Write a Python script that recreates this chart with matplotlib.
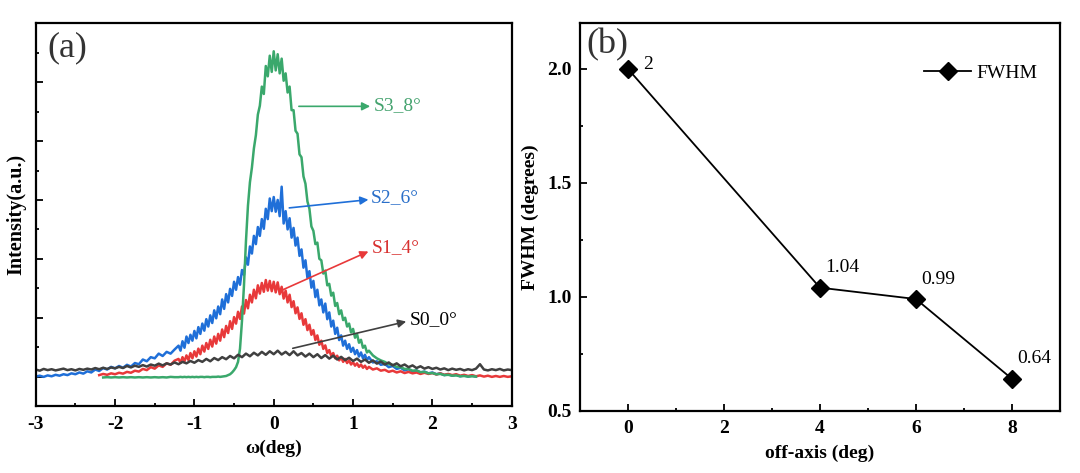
import matplotlib
matplotlib.use('Agg')
import matplotlib.pyplot as plt
import numpy as np
from matplotlib.ticker import MultipleLocator

plt.rcParams['font.family'] = ['Liberation Serif', 'DejaVu Serif']
plt.rcParams['axes.unicode_minus'] = False


def grid(a, b, step):
    # sampling positions of omega (deg)
    n = int(round((b - a) / step)) + 1
    return np.round(np.linspace(a, b, n), 3)


# ---- (a) rocking curves, intensity in arbitrary units ----
# S0_0° sampled every 0.05 deg
w_s0 = grid(-3.0, 3.0, 0.05)
i_s0 = [0.24, 0.20, 0.26, 0.22, 0.25, 0.21, 0.24, 0.27, 0.22, 0.25,
        0.21, 0.26, 0.23, 0.27, 0.24, 0.29, 0.25, 0.30, 0.26, 0.31,
        0.28, 0.33, 0.29, 0.36, 0.31, 0.37, 0.33, 0.39, 0.34, 0.41,
        0.37, 0.44, 0.38, 0.45, 0.41, 0.48, 0.42, 0.50, 0.45, 0.53,
        0.47, 0.56, 0.50, 0.60, 0.52, 0.63, 0.56, 0.66, 0.59, 0.70,
        0.62, 0.74, 0.66, 0.78, 0.69, 0.81, 0.72, 0.84, 0.74, 0.86,
        0.76, 0.88, 0.75, 0.84, 0.73, 0.86, 0.72, 0.80, 0.68, 0.78,
        0.66, 0.76, 0.63, 0.73, 0.61, 0.71, 0.58, 0.67, 0.56, 0.64,
        0.53, 0.61, 0.50, 0.58, 0.47, 0.55, 0.44, 0.51, 0.41, 0.48,
        0.38, 0.45, 0.35, 0.41, 0.32, 0.38, 0.29, 0.35, 0.27, 0.32,
        0.26, 0.30, 0.24, 0.28, 0.22, 0.27, 0.23, 0.26, 0.21, 0.25,
        0.22, 0.27, 0.42, 0.24, 0.21, 0.25, 0.22, 0.26, 0.21, 0.24,
        0.22]

# S1_4°: tails every 0.05 deg, centre (-1.2..1.2) every 0.025 deg
w_s1 = np.concatenate([grid(-2.2, -1.25, 0.05), grid(-1.2, 1.2, 0.025), grid(1.25, 3.0, 0.05)])
i_s1 = [0.05, 0.09, 0.06, 0.11, 0.08, 0.13, 0.10, 0.16, 0.13, 0.20,
        0.17, 0.26, 0.22, 0.32, 0.27, 0.38, 0.33, 0.45, 0.40, 0.54,
        # centre
        0.60, 0.47, 0.66, 0.52, 0.72, 0.56, 0.80, 0.62, 0.86, 0.68,
        0.95, 0.76, 1.05, 0.85, 1.14, 0.94, 1.25, 1.02, 1.36, 1.12,
        1.45, 1.22, 1.60, 1.34, 1.72, 1.48, 1.88, 1.62, 2.02, 1.80,
        2.20, 1.96, 2.38, 2.14, 2.60, 2.32, 2.78, 2.52, 2.95, 2.66,
        3.10, 2.82, 3.18, 2.88, 3.28, 2.92, 3.25, 2.90, 3.22, 2.86,
        3.20, 2.80, 3.05, 2.65, 2.92, 2.52, 2.78, 2.36, 2.56, 2.15,
        2.35, 1.96, 2.15, 1.76, 1.95, 1.58, 1.76, 1.42, 1.58, 1.24,
        1.40, 1.08, 1.22, 0.94, 1.06, 0.80, 0.90, 0.70, 0.80, 0.62,
        0.71, 0.55, 0.65, 0.50, 0.60, 0.46, 0.55, 0.41, 0.49, 0.37,
        0.45, 0.33, 0.41, 0.30, 0.37, 0.26, 0.33,
        # right tail
        0.24, 0.28, 0.20, 0.23, 0.16, 0.20, 0.14, 0.18, 0.12, 0.16,
        0.11, 0.14, 0.09, 0.13, 0.09, 0.12, 0.07, 0.11, 0.06, 0.09,
        0.05, 0.08, 0.03, 0.06, 0.02, 0.05, 0.01, 0.04, 0.00, 0.03,
        -0.01, 0.02, -0.01, 0.02, -0.01, 0.01]

# S2_6°
w_s2 = np.concatenate([grid(-3.0, -1.25, 0.05), grid(-1.2, 1.2, 0.025), grid(1.25, 2.55, 0.05)])
i_s2 = [0.00, 0.03, -0.01, 0.04, 0.01, 0.06, 0.03, 0.08, 0.05, 0.11,
        0.08, 0.14, 0.10, 0.18, 0.14, 0.24, 0.19, 0.29, 0.24, 0.33,
        0.28, 0.36, 0.30, 0.40, 0.34, 0.46, 0.42, 0.58, 0.52, 0.66,
        0.62, 0.78, 0.70, 0.84, 0.78, 0.92,
        # centre
        1.05, 0.88, 1.20, 0.98, 1.36, 1.14, 1.42, 1.22, 1.55, 1.30,
        1.68, 1.45, 1.80, 1.56, 1.95, 1.70, 2.08, 1.82, 2.25, 1.98,
        2.38, 2.12, 2.62, 2.30, 2.80, 2.52, 2.98, 2.74, 3.22, 2.95,
        3.38, 3.12, 3.62, 3.45, 4.05, 3.80, 4.42, 4.18, 4.78, 4.50,
        5.08, 4.78, 5.35, 5.02, 5.70, 5.35, 6.05, 5.62, 6.10, 5.60,
        6.00, 5.45, 6.45, 5.20, 5.62, 5.00, 5.38, 4.72, 5.05, 4.45,
        4.72, 4.10, 4.32, 3.70, 3.95, 3.35, 3.58, 3.02, 3.25, 2.70,
        2.95, 2.42, 2.62, 2.18, 2.48, 1.95, 2.18, 1.70, 1.90, 1.45,
        1.66, 1.24, 1.40, 1.05, 1.22, 0.94, 1.10, 0.84, 0.98, 0.76,
        0.90, 0.68, 0.82, 0.62, 0.74, 0.56, 0.66,
        # right tail
        0.48, 0.52, 0.40, 0.43, 0.32, 0.36, 0.26, 0.30, 0.21, 0.25,
        0.17, 0.21, 0.14, 0.17, 0.11, 0.14, 0.08, 0.11, 0.05, 0.08,
        0.03, 0.06, 0.01, 0.04, 0.00, 0.03, 0.00]

# S3_8°
w_s3 = np.concatenate([grid(-2.15, -1.25, 0.05), grid(-1.2, 1.2, 0.025), grid(1.25, 2.55, 0.05)])
i_s3 = [-0.03, -0.02, -0.03, -0.02, -0.03, -0.02, -0.03, -0.02, -0.03, -0.02,
        -0.03, -0.02, -0.03, -0.02, -0.03, -0.02, -0.03, -0.01, -0.02,
        # centre
        -0.02, -0.01, -0.02, -0.01, -0.02, -0.01, -0.02, -0.01, -0.02, -0.01,
        -0.02, -0.01, -0.01, -0.02, -0.01, -0.01, -0.02, -0.01, -0.01, -0.01,
        0.00, -0.01, 0.00, 0.01, 0.02, 0.05, 0.08, 0.14, 0.22, 0.32,
        0.50, 0.95, 1.90, 3.10, 4.60, 5.80, 6.60, 7.10, 7.75, 8.20,
        8.90, 9.20, 9.85, 9.60, 10.55, 10.20, 10.90, 10.35, 11.05, 10.40,
        10.95, 10.30, 10.80, 10.05, 10.30, 9.65, 9.85, 9.05, 9.05, 8.35,
        8.25, 7.55, 7.45, 6.80, 6.55, 5.95, 5.70, 5.10, 4.95, 4.50,
        4.55, 4.00, 3.95, 3.50, 3.60, 3.10, 3.15, 2.75, 2.85, 2.40,
        2.50, 2.12, 2.25, 1.92, 2.00, 1.70, 1.80, 1.50, 1.62, 1.32,
        1.45, 1.15, 1.25, 0.98, 1.05, 0.82, 0.88,
        # right tail
        0.72, 0.62, 0.55, 0.50, 0.42, 0.40, 0.33, 0.32, 0.26, 0.26,
        0.20, 0.21, 0.15, 0.16, 0.11, 0.12, 0.08, 0.09, 0.05, 0.06,
        0.03, 0.04, 0.01, 0.02, 0.00, 0.01, 0.00]

curve_labels = ['S0_0°', 'S1_4°', 'S2_6°', 'S3_8°']

# ---- (b) FWHM vs off-axis angle ----
off_axis = [0, 4, 6, 8]
fwhm = [2.0, 1.04, 0.99, 0.64]

c_s0 = '#404040'
c_s1 = '#e8393a'
c_s2 = '#1f6fd8'
c_s3 = '#3aa86c'

fig = plt.figure(figsize=(10.8, 4.73), dpi=100)
ax1 = fig.add_axes([0.0331, 0.1416, 0.4407, 0.8091])
ax2 = fig.add_axes([0.5370, 0.1317, 0.4444, 0.8190])

ax1.plot(w_s2, i_s2, color=c_s2, lw=1.8)
ax1.plot(w_s1, i_s1, color=c_s1, lw=1.8)
ax1.plot(w_s3, i_s3, color=c_s3, lw=1.8)
ax1.plot(w_s0, i_s0, color=c_s0, lw=1.8)

# arrows + labels (start on curve, head at label)
arr = [((0.24, 0.96), (1.67, 1.87), (1.72, 1.95), c_s0, 'black'),
       ((0.066, 2.89), (1.194, 4.25), (1.24, 4.37), c_s1, '#d8302f'),
       ((0.196, 5.73), (1.194, 6.01), (1.22, 6.07), c_s2, '#2a6fc9'),
       ((0.317, 9.18), (1.216, 9.18), (1.26, 9.2), c_s3, '#45a36f')]
for (st, en, tp, col, tcol), lab in zip(arr, curve_labels):
    ax1.annotate('', xy=en, xytext=st,
                 arrowprops=dict(arrowstyle='-|>', color=col, lw=1.2,
                                 mutation_scale=12, shrinkA=0, shrinkB=0))
    ax1.text(tp[0], tp[1], lab, color=tcol, fontsize=14, va='center', ha='left')

ax1.set_xlim(-3, 3)
ax1.set_ylim(-1, 12)
ax1.xaxis.set_major_locator(MultipleLocator(1))
ax1.xaxis.set_minor_locator(MultipleLocator(0.5))
ax1.yaxis.set_major_locator(MultipleLocator(2))
ax1.yaxis.set_minor_locator(MultipleLocator(1))
ax1.set_yticklabels([])
ax1.set_xlabel('ω(deg)', fontsize=14, fontweight='bold', labelpad=5)
ax1.set_ylabel('Intensity(a.u.)', fontsize=14.5, fontweight='bold', labelpad=1)
ax1.text(0.066, 0.935, '(a)', transform=ax1.transAxes, fontsize=26,
         color='#333333', ha='center', va='center')

ax2.plot(off_axis, fwhm, color='black', lw=1.3, marker='D', ms=9,
         mfc='black', mec='black', label='FWHM')
for x, y in zip(off_axis, fwhm):
    if x == 0:
        ax2.text(x + 0.32, y + 0.02, f'{y:g}', fontsize=14, va='center')
    else:
        ax2.text(x + 0.12, y + 0.087, f'{y:g}', fontsize=14, va='center')
ax2.set_xlim(-1, 9)
ax2.set_ylim(0.5, 2.2)
ax2.xaxis.set_major_locator(MultipleLocator(2))
ax2.xaxis.set_minor_locator(MultipleLocator(1))
ax2.yaxis.set_major_locator(MultipleLocator(0.5))
ax2.yaxis.set_minor_locator(MultipleLocator(0.25))
ax2.set_xlabel('off-axis (deg)', fontsize=14, fontweight='bold', labelpad=5)
ax2.set_ylabel('FWHM (degrees)', fontsize=14, fontweight='bold', labelpad=6)
ax2.text(0.058, 0.944, '(b)', transform=ax2.transAxes, fontsize=26,
         color='#333333', ha='center', va='center')
ax2.legend(loc='center left', bbox_to_anchor=(0.681, 0.8725), frameon=False,
           fontsize=14, handlelength=2.4, handletextpad=0.3)

for ax in (ax1, ax2):
    for s in ax.spines.values():
        s.set_linewidth(1.6)
    ax.tick_params(which='both', direction='in', width=1.3)
    ax.tick_params(which='major', length=5)
    ax.tick_params(which='minor', length=2.5)
    ax.tick_params(axis='x', pad=7)
    ax.tick_params(axis='y', pad=6)
    for t in ax.get_xticklabels() + ax.get_yticklabels():
        t.set_fontsize(14)
        t.set_fontweight('bold')

fig.savefig('out.png', dpi=100)
